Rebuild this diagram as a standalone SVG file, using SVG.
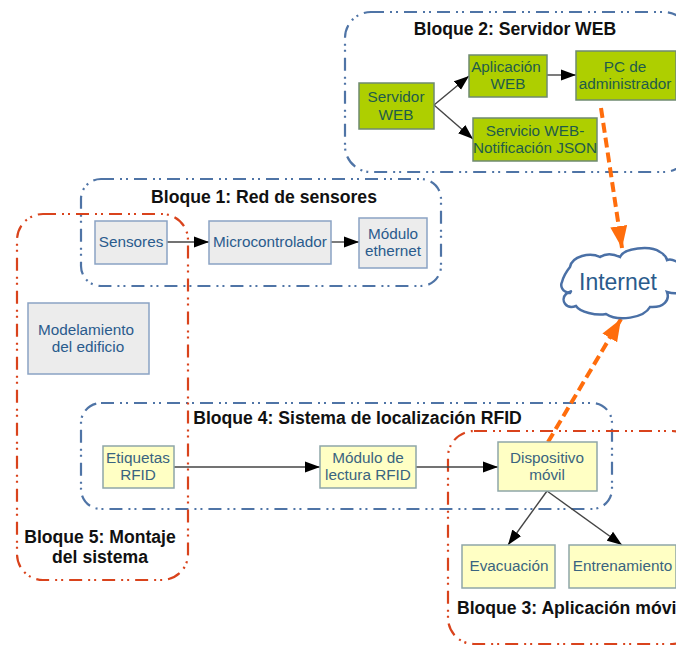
<svg xmlns="http://www.w3.org/2000/svg" width="676" height="646" viewBox="0 0 676 646">
<style>
text{font-family:"Liberation Sans",Arial,sans-serif;text-anchor:middle}
.t{font-size:15.300px;fill:#2a5b8c}
.tg{font-size:15.300px;fill:#1f5c4a}
.ty{font-size:15.300px;fill:#3a6480}
.h{font-size:17.600px;font-weight:bold;fill:#111}
.g{fill:#ececec;stroke:#8aa3c4;stroke-width:1.5}
.l{fill:#aecf00;stroke:#6f8a70;stroke-width:1.5}
.y{fill:#ffffc4;stroke:#8fa6a8;stroke-width:1.5}
.bb{fill:none;stroke:#4f74a6;stroke-width:2.2;stroke-dasharray:13 6 2 4 2 6}
.br{fill:none;stroke:#d9431c;stroke-width:2.2;stroke-dasharray:13 6 2 4 2 6}
.c{fill:none;stroke:#444;stroke-width:1.4}
.o{fill:none;stroke:#ff6d0c;stroke-width:4;stroke-dasharray:10 5}
</style>
<defs>
<marker id="a" markerUnits="userSpaceOnUse" markerWidth="16" markerHeight="12" refX="15" refY="6" orient="auto"><path d="M0 0.500L15 6L0 11.500Z" fill="#000"/></marker>
<marker id="o" markerUnits="userSpaceOnUse" markerWidth="22" markerHeight="17" refX="22" refY="8.500" orient="auto"><path d="M0 0L22 8.500L0 17Z" fill="#ff6d0c"/></marker>
</defs>
<g id="bloque2"><rect class="bb" x="345" y="12" width="345" height="160" rx="26"/><text class="h" x="515" y="35">Bloque 2: Servidor WEB</text></g>
<g id="bloque1"><rect class="bb" x="81" y="179" width="360" height="107" rx="20"/><text class="h" x="264" y="203">Bloque 1: Red de sensores</text></g>
<g id="bloque4"><rect class="bb" x="81" y="403" width="531" height="106" rx="20"/><text class="h" x="357.500" y="424">Bloque 4: Sistema de localización RFID</text></g>
<g id="bloque5"><rect class="br" x="17" y="214" width="171" height="366" rx="26"/><text class="h" x="100" y="543">Bloque 5: Montaje</text><text class="h" x="100" y="563">del sistema</text></g>
<g id="bloque3"><rect class="br" x="448" y="431" width="250" height="213" rx="26"/><text class="h" x="457" y="614" style="text-anchor:start">Bloque 3: Aplicación móvi</text></g>
<g id="connectors">
<path class="c" d="M434 105L469 76" marker-end="url(#a)"/>
<path class="c" d="M434 105L473 139" marker-end="url(#a)"/>
<path class="c" d="M547 75L576 75" marker-end="url(#a)"/>
<path class="c" d="M167 242L209 242" marker-end="url(#a)"/>
<path class="c" d="M331 242L359 242" marker-end="url(#a)"/>
<path class="c" d="M174 467L320 467" marker-end="url(#a)"/>
<path class="c" d="M416 467L498 467" marker-end="url(#a)"/>
<path class="c" d="M547 491L508 545" marker-end="url(#a)"/>
<path class="c" d="M547 491L622 545" marker-end="url(#a)"/>
<path class="o" d="M601 108L622 248" marker-end="url(#o)"/>
<path class="o" d="M548 442L621 319" marker-end="url(#o)"/>
</g>
<g id="servidor"><rect class="l" x="359" y="83" width="75" height="46"/><text class="tg" x="396" y="102">Servidor</text><text class="tg" x="396" y="120">WEB</text></g>
<g id="aplicacion"><rect class="l" x="469" y="55" width="78" height="42"/><text class="tg" x="506" y="72">Aplicación</text><text class="tg" x="508" y="89">WEB</text></g>
<g id="pc"><rect class="l" x="576" y="51" width="100" height="49"/><text class="tg" x="625" y="72">PC de</text><text class="tg" x="625" y="89">administrador</text></g>
<g id="servicio"><rect class="l" x="473" y="118" width="124" height="43"/><text class="tg" x="535" y="136">Servicio WEB-</text><text class="tg" x="535" y="153">Notificación JSON</text></g>
<g id="sensores"><rect class="g" x="95" y="221" width="72" height="43"/><text class="t" x="131" y="247">Sensores</text></g>
<g id="micro"><rect class="g" x="209" y="221" width="122" height="43"/><text class="t" x="270" y="247">Microcontrolador</text></g>
<g id="ethernet"><rect class="g" x="359" y="218" width="68" height="50"/><text class="t" x="393" y="239">Módulo</text><text class="t" x="393" y="256">ethernet</text></g>
<g id="modelamiento"><rect class="g" x="28" y="303" width="121" height="71"/><text class="t" x="86" y="335">Modelamiento</text><text class="t" x="88" y="352">del edificio</text></g>
<g id="etiquetas"><rect class="y" x="103" y="446" width="71" height="42"/><text class="ty" x="138" y="463">Etiquetas</text><text class="ty" x="138" y="480">RFID</text></g>
<g id="lectura"><rect class="y" x="320" y="446" width="96" height="42"/><text class="ty" x="368" y="463">Módulo de</text><text class="ty" x="368" y="480">lectura RFID</text></g>
<g id="dispositivo"><rect class="y" x="498" y="442" width="99" height="49"/><text class="ty" x="547" y="463">Dispositivo</text><text class="ty" x="547" y="480">móvil</text></g>
<g id="evacuacion"><rect class="y" x="462" y="545" width="93" height="43"/><text class="ty" x="509" y="571">Evacuación</text></g>
<g id="entrenamiento"><rect class="y" x="569" y="545" width="107" height="43"/><text class="ty" x="622.500" y="571">Entrenamiento</text></g>
<g id="internet"><path d="M570 267C572 256 590 252 600 257C606 253 614 254 620 257C624 248 650 245 660 252C664 254 666 256 667 260C672 258 680 262 684 270L684 290C680 294 674 294 667 292C670 300 664 308 650 307C644 318 618 322 606 314C596 316 580 312 576 306C566 310 560 300 566 294C571 291 572 290 570 293C562 292 560 286 562 282C563 278 566 272 570 267Z" fill="#fff" stroke="#4a70a6" stroke-width="2.500"/><text x="618" y="290" style="font-size:23px;fill:#2a5b8c">Internet</text></g>
</svg>
